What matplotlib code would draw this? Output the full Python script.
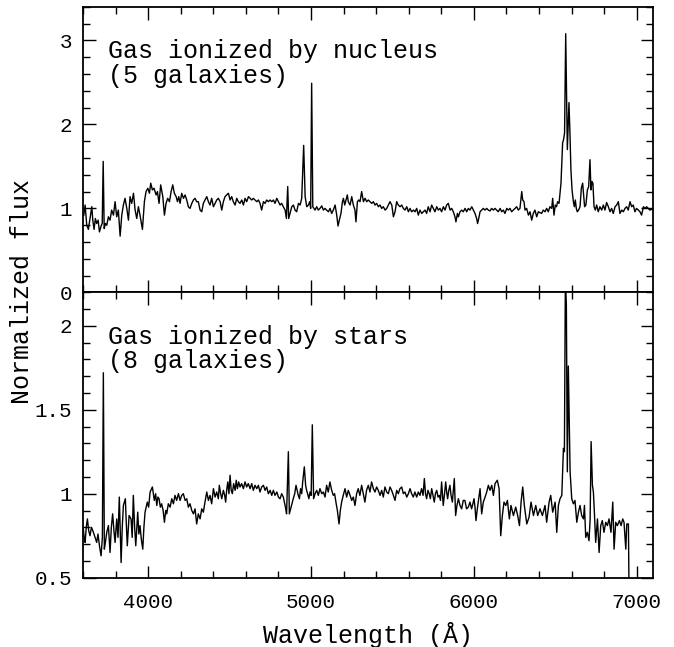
import numpy as np
import matplotlib
matplotlib.use('Agg')
import matplotlib.pyplot as plt
from matplotlib.ticker import MultipleLocator, FormatStrFormatter

plt.rcParams['font.family'] = ['Liberation Mono', 'DejaVu Sans']

# composite spectrum, nuclear-ionized sample (wavelength in A, normalized flux)
nuc_wave = [
    3605, 3613, 3623, 3633, 3643, 3654, 3660, 3668, 3676, 3684,
    3693, 3701, 3711, 3718, 3724, 3730, 3738, 3746, 3756, 3766,
    3776, 3787, 3797, 3807, 3817, 3828, 3838, 3848, 3858, 3869,
    3879, 3889, 3899, 3910, 3920, 3930, 3940, 3950, 3965, 3977,
    3987, 3998, 4008, 4016, 4026, 4036, 4049, 4057, 4067, 4077,
    4090, 4100, 4110, 4120, 4131, 4141, 4151, 4161, 4172, 4180,
    4188, 4196, 4206, 4217, 4227, 4237, 4247, 4257, 4268, 4278,
    4288, 4298,
    4308, 4319, 4329, 4339, 4349, 4360, 4370, 4380, 4390, 4401,
    4411, 4421, 4431, 4442, 4452, 4462, 4472, 4482, 4493, 4503,
    4513, 4523, 4534, 4544, 4554, 4564, 4575, 4585, 4595, 4605,
    4616, 4626, 4636, 4646, 4656, 4667, 4677, 4687, 4697, 4708,
    4718, 4728, 4738, 4749, 4759, 4769, 4779, 4790, 4800, 4810,
    4820, 4830, 4841, 4849, 4857, 4863, 4871, 4882, 4892, 4902,
    4912, 4923, 4933, 4943, 4955, 4964, 4974, 4984, 4992, 4998,
    5004, 5011,
    5025, 5035, 5045, 5055, 5066, 5076, 5086, 5096, 5107, 5117,
    5127, 5137, 5148, 5158, 5166, 5174, 5184, 5193, 5199, 5207,
    5215, 5223, 5229, 5240, 5250, 5260, 5270, 5276, 5285, 5293,
    5301, 5311, 5322, 5332, 5342, 5352, 5362, 5373, 5383, 5393,
    5403, 5414, 5424, 5434, 5444, 5455, 5465, 5475, 5485, 5496,
    5506, 5516, 5526, 5536, 5547, 5557, 5567, 5577, 5588, 5598,
    5608, 5618, 5629, 5639, 5649, 5659, 5669, 5680, 5690, 5700,
    5710, 5720, 5731, 5741, 5751, 5761, 5772, 5782, 5792, 5802,
    5813, 5823, 5833, 5843, 5854, 5864, 5874, 5884, 5890, 5899,
    5905, 5915, 5925, 5935, 5946, 5956, 5966, 5976, 5987, 5997,
    6007, 6017, 6023, 6032, 6038, 6048, 6058, 6068, 6079, 6089,
    6099, 6109, 6120, 6130, 6140, 6150, 6161, 6171, 6181, 6191,
    6202, 6212, 6222, 6232, 6242, 6253, 6263, 6273, 6283, 6294,
    6300, 6308, 6314, 6324, 6335, 6345, 6355, 6365, 6375, 6386,
    6396,
    6416, 6426, 6437, 6447, 6457, 6467, 6478, 6484, 6492, 6500,
    6508, 6514, 6523, 6529, 6535, 6541, 6545, 6551, 6557, 6564,
    6574, 6584, 6590, 6596, 6603, 6611, 6617, 6623,
    6629, 6635, 6643, 6652, 6660, 6668, 6674, 6680, 6688, 6697,
    6705, 6713, 6719, 6725, 6731, 6738, 6746, 6754, 6764, 6774,
    6785, 6795, 6805, 6815, 6826, 6836, 6846, 6856, 6867, 6877,
    6887, 6897, 6908, 6918, 6928, 6938, 6948, 6959, 6969, 6979,
    6989, 6999, 7010, 7020, 7030, 7041, 7051, 7061, 7071, 7081,
    7092, 7100,
]
nuc_flux = [
    0.92, 1.04, 0.80, 0.75, 0.88, 1.02, 0.86, 0.75, 0.88, 0.82,
    0.86, 0.72, 0.79, 0.82, 1.56, 0.76, 0.82, 0.80, 0.90, 0.86,
    0.98, 0.92, 1.08, 0.90, 0.98, 0.67, 0.92, 1.04, 1.12, 1.00,
    0.86, 1.14, 1.06, 1.18, 0.98, 0.88, 1.02, 0.92, 0.75, 1.08,
    1.20, 1.24, 1.18, 1.30, 1.22, 1.24, 1.16, 1.20, 1.06, 1.28,
    1.14, 0.92, 1.06, 1.12, 1.08, 1.20, 1.28, 1.18, 1.14, 1.08,
    1.14, 1.06, 1.18, 1.12, 1.16, 1.10, 1.02, 1.00, 1.06, 1.10,
    1.12, 1.08,
    1.08, 0.98, 0.96, 1.06, 1.10, 1.14, 1.08, 1.04, 1.12, 1.02,
    1.06, 1.10, 1.12, 1.08, 0.98, 1.08, 1.14, 1.16, 1.18, 1.10,
    1.14, 1.08, 1.04, 1.12, 1.08, 1.06, 1.10, 1.04, 1.12, 1.08,
    1.14, 1.12, 1.10, 1.12, 1.10, 1.08, 1.10, 1.06, 0.98, 1.08,
    1.06, 1.10, 1.08, 1.10, 1.08, 1.10, 1.06, 1.12, 1.08, 1.04,
    1.06, 1.02, 0.98, 0.88, 1.26, 0.88, 0.94, 1.02, 1.04, 0.98,
    0.96, 1.06, 1.04, 1.12, 1.75, 1.14, 1.02, 1.04, 1.08, 1.00,
    2.49, 1.02,
    0.98, 1.02, 0.98, 1.00, 1.03, 0.98, 1.00, 0.98, 0.96, 1.00,
    0.94, 0.98, 1.04, 0.92, 0.79, 0.86, 0.94, 1.08, 1.12, 1.04,
    1.10, 1.16, 1.08, 1.04, 1.14, 1.04, 0.98, 0.84, 1.08, 1.10,
    1.08, 1.20, 1.08, 1.12, 1.08, 1.10, 1.08, 1.06, 1.08, 1.04,
    1.06, 1.02, 1.04, 1.00, 1.02, 0.98, 1.00, 1.04, 1.08, 1.04,
    0.90, 0.96, 1.08, 1.04, 1.02, 1.04, 1.00, 0.98, 1.02, 0.96,
    1.00, 0.96, 0.98, 0.96, 1.00, 0.92, 0.98, 0.94, 0.96, 0.98,
    0.94, 1.02, 0.96, 1.04, 1.00, 0.96, 1.02, 0.98, 1.00, 0.96,
    1.02, 0.98, 1.04, 1.06, 0.98, 1.00, 0.96, 0.90, 0.84, 0.94,
    0.90, 0.96, 0.98, 0.96, 1.00, 0.96, 1.00, 0.98, 1.02, 0.98,
    0.94, 0.88, 0.82, 0.90, 0.96, 0.98, 1.00, 0.98, 1.00, 0.98,
    0.97, 1.00, 0.98, 1.00, 0.98, 0.96, 1.00, 0.96, 0.98, 0.94,
    1.00, 0.98, 1.00, 0.96, 0.98, 1.00, 1.02, 0.98, 1.00, 1.20,
    1.10, 1.08, 0.98, 1.00, 0.92, 0.96, 0.86, 0.94, 0.98, 0.90,
    0.96,
    0.94, 0.98, 0.96, 1.00, 0.96, 1.02, 1.00, 1.12, 0.92, 1.04,
    1.02, 1.08, 1.06, 1.18, 1.30, 1.58, 1.78, 1.82, 1.90, 3.08,
    1.70, 2.26, 1.90, 1.46, 1.22, 1.08, 1.02, 1.10,
    1.00, 0.96, 0.98, 1.02, 1.24, 1.30, 1.16, 1.02, 1.04, 1.22,
    1.26, 1.58, 1.22, 1.32, 1.30, 1.02, 0.98, 1.04, 0.96, 1.02,
    0.98, 1.04, 0.98, 1.07, 1.02, 0.96, 1.00, 0.94, 1.02, 1.04,
    1.08, 0.94, 0.98, 0.96, 1.00, 1.02, 0.98, 1.08, 1.02, 1.04,
    0.96, 1.00, 0.98, 0.96, 0.92, 1.02, 1.00, 1.02, 1.00, 0.98,
    0.99, 0.98,
]

# composite spectrum, star-ionized sample
sf_wave = [
    3602, 3607, 3613, 3620, 3627, 3635, 3643, 3652, 3664, 3674,
    3684, 3692, 3701, 3711, 3719, 3725, 3731, 3739, 3746, 3756,
    3766, 3774, 3782, 3790, 3797, 3807, 3815, 3823, 3834, 3841,
    3848, 3860, 3866, 3872, 3883, 3895, 3902, 3909, 3917, 3924,
    3936, 3943, 3950, 3958, 3967, 3974, 3981, 3995, 4003, 4012,
    4026, 4038, 4046, 4053, 4060, 4067, 4075, 4083, 4092,
    4100, 4108, 4114, 4124, 4135, 4145, 4155, 4165, 4175, 4186,
    4196, 4206, 4216, 4227, 4237, 4247, 4257, 4268, 4278, 4288,
    4298, 4308, 4319, 4329, 4339, 4349, 4360, 4370, 4380, 4390,
    4401, 4411, 4421, 4431, 4437, 4445, 4452, 4462, 4470, 4476,
    4482, 4489, 4496, 4503, 4510, 4517, 4525, 4534, 4541, 4548,
    4556, 4564, 4574, 4585, 4595, 4605, 4615, 4626, 4636, 4646,
    4656, 4667, 4677, 4687, 4697, 4708, 4718, 4728, 4738, 4749,
    4759, 4769, 4779, 4790, 4800, 4810, 4820, 4830, 4843,
    4850, 4861, 4867, 4875, 4883, 4891, 4900, 4908, 4915, 4922,
    4929, 4936, 4943, 4949, 4959, 4967, 4973, 4979, 4987, 4994,
    5001, 5008,
    5016, 5025, 5035, 5045, 5055, 5066, 5076, 5086, 5096, 5106,
    5116, 5127, 5137, 5145, 5153, 5162, 5172, 5180, 5188, 5198,
    5209, 5219, 5229, 5240, 5250, 5260, 5270, 5280, 5290, 5300,
    5311, 5321, 5331, 5341, 5352, 5362, 5372, 5383, 5393, 5403,
    5413, 5424, 5434, 5444, 5454, 5465, 5475, 5485, 5495, 5506,
    5516, 5526, 5536, 5546, 5557, 5567, 5577, 5588, 5598, 5608,
    5618, 5628, 5638, 5649, 5659, 5669, 5679, 5688, 5696, 5703,
    5710, 5718, 5726, 5733, 5741, 5749, 5757, 5764, 5772, 5780,
    5788, 5795, 5802, 5807, 5812, 5820, 5827, 5833, 5839, 5846,
    5853, 5860, 5868, 5874, 5880, 5884, 5888, 5896, 5905, 5915,
    5925, 5935, 5945, 5955, 5966, 5976, 5986, 5994, 6001, 6007,
    6013, 6020, 6027,
    6038, 6048, 6058, 6069, 6079, 6089, 6099, 6110, 6120, 6130,
    6144, 6155, 6165, 6175, 6185, 6196, 6206, 6218, 6228, 6243,
    6257, 6269, 6280, 6290, 6300, 6310, 6325, 6339, 6351, 6366,
    6380, 6392, 6406, 6421, 6437, 6447, 6462, 6472, 6484, 6499,
    6509, 6519, 6529, 6540, 6550, 6556, 6562, 6568, 6574, 6580,
    6591, 6601, 6611, 6621, 6632, 6642, 6652, 6662, 6673, 6679,
    6687, 6697, 6707, 6714, 6720, 6728, 6734, 6740, 6748, 6759,
    6769, 6779, 6789, 6799, 6810, 6820, 6830, 6842, 6853, 6861,
    6871, 6881, 6894, 6904, 6914, 6922, 6933, 6939, 6949, 6954,
]
sf_flux = [
    0.79, 0.74, 0.71, 0.80, 0.85, 0.78, 0.75, 0.80, 0.77, 0.74,
    0.71, 0.76, 0.69, 0.63, 0.74, 1.72, 0.67, 0.72, 0.77, 0.81,
    0.65, 0.80, 0.88, 0.78, 0.71, 0.85, 0.74, 0.98, 0.59, 0.80,
    0.93, 0.97, 0.82, 0.69, 0.87, 0.85, 0.74, 0.99, 0.80, 0.69,
    0.89, 0.76, 0.81, 0.73, 0.67, 0.80, 0.89, 0.95, 0.92, 1.01,
    1.04, 0.96, 1.00, 0.93, 0.98, 0.97, 0.92, 0.94, 0.90,
    0.83, 0.90, 0.88, 0.94, 0.92, 0.97, 0.94, 0.99, 0.96, 1.00,
    0.96, 0.99, 1.00, 0.96, 0.97, 0.92, 0.94, 0.90, 0.88, 0.91,
    0.82, 0.88, 0.85, 0.91, 0.89, 0.95, 1.01, 0.96, 0.99, 0.94,
    1.03, 0.98, 1.01, 0.97, 1.05, 1.00, 0.97, 1.02, 0.99, 0.95,
    1.02, 1.07, 1.00, 1.11, 1.02, 1.00, 1.06, 1.02, 1.08, 1.03,
    1.07, 1.04, 1.06, 1.03, 1.07, 1.04, 1.06, 1.03, 1.06, 1.02,
    1.05, 1.03, 1.05, 1.01, 1.04, 1.05, 1.02, 1.04, 1.00, 1.02,
    0.99, 1.02, 0.99, 1.01, 0.98, 0.97, 1.00, 0.98, 0.92,
    0.88, 1.25, 0.88, 0.91, 0.94, 0.97, 1.00, 1.05, 1.02, 0.99,
    0.97, 1.03, 1.00, 1.07, 1.16, 1.05, 1.02, 1.00, 0.97, 1.01,
    0.99, 1.41,
    0.97, 1.00, 1.02, 0.99, 1.03, 1.00, 1.01, 0.98, 1.05, 1.01,
    1.07, 1.02, 0.99, 1.00, 0.95, 0.90, 0.82, 0.90, 0.95, 0.99,
    1.03, 0.98, 1.02, 0.99, 0.96, 0.98, 0.93, 1.00, 1.03, 0.99,
    1.05, 1.00, 0.95, 1.02, 1.05, 1.01, 1.07, 1.03, 1.01, 1.04,
    1.02, 0.99, 1.02, 0.98, 1.04, 1.01, 1.00, 1.04, 1.02, 0.99,
    0.96, 1.02, 1.00, 1.03, 1.04, 1.00, 1.01, 0.98, 1.00, 1.03,
    1.00, 0.98, 1.01, 0.98, 1.01, 0.99, 1.03, 0.99, 1.09, 1.00,
    0.97, 1.02, 1.00, 0.97, 1.03, 0.99, 0.95, 1.00, 1.02, 0.98,
    0.99, 0.96, 1.07, 1.00, 0.93, 1.00, 1.07, 1.01, 0.97, 1.02,
    1.05, 0.99, 0.95, 1.02, 1.09, 0.98, 0.87, 0.93, 0.97, 0.93,
    0.91, 0.96, 0.96, 0.91, 0.92, 0.95, 0.91, 0.94, 0.97, 0.92,
    0.84, 0.90, 0.95,
    1.03, 0.88, 0.95, 0.98, 1.01, 1.05, 1.02, 1.05, 0.99, 1.06,
    1.08, 1.03, 0.75, 0.87, 0.95, 0.93, 0.96, 0.85, 0.93, 0.87,
    0.92, 0.87, 0.81, 0.95, 1.04, 0.93, 0.82, 0.86, 0.95, 0.87,
    0.93, 0.87, 0.91, 0.87, 0.93, 0.83, 0.95, 0.99, 0.89, 0.95,
    0.77, 0.93, 0.97, 0.99, 1.27, 1.25, 2.30, 2.12, 1.13, 1.76,
    1.13, 0.97, 0.94, 0.96, 0.83, 0.89, 0.93, 0.87, 0.85, 0.93,
    0.74, 0.77, 0.72, 0.85, 1.31, 1.05, 1.01, 0.89, 0.71, 0.85,
    0.65, 0.81, 0.84, 0.77, 0.83, 0.81, 0.85, 0.77, 0.95, 0.67,
    0.83, 0.81, 0.84, 0.81, 0.85, 0.83, 0.67, 0.82, 0.82, 0.30,
]
assert len(nuc_wave) == len(nuc_flux) and len(sf_wave) == len(sf_flux)

panels = [
    ('Gas ionized by nucleus', '(5 galaxies)', nuc_wave, nuc_flux,
     (0, 3.4), 1, 0.2),
    ('Gas ionized by stars', '(8 galaxies)', sf_wave, sf_flux,
     (0.5, 2.2), 0.5, 0.1),
]

fig = plt.figure(figsize=(6.74, 6.47), dpi=100)
left, width, height = 83/674, 570/674, 285.6/647
bottoms = [1 - 292.4/647, 1 - 577.7/647]

for i, (line1, line2, wave, flux, ylim, major, minor) in enumerate(panels):
    ax = fig.add_axes([left, bottoms[i], width, height])
    ax.plot(wave, flux, color='black', lw=1.0)
    ax.set_xlim(3600, 7100)
    ax.set_ylim(*ylim)
    ax.xaxis.set_major_locator(MultipleLocator(1000))
    ax.xaxis.set_minor_locator(MultipleLocator(200))
    ax.yaxis.set_major_locator(MultipleLocator(major))
    ax.yaxis.set_minor_locator(MultipleLocator(minor))
    ax.yaxis.set_major_formatter(FormatStrFormatter('%g'))
    ax.tick_params(which='both', direction='in', top=True, right=True,
                   labelsize=15, width=1.0)
    ax.tick_params(axis='y', pad=8)
    ax.tick_params(axis='x', pad=11)
    ax.tick_params(which='major', length=9)
    ax.tick_params(which='minor', length=4.8)
    for s in ax.spines.values():
        s.set_linewidth(1.3)
    if i == 0:
        ax.tick_params(labelbottom=False)
    ax.text(0.044, 0.82, line1, transform=ax.transAxes, fontsize=18,
            va='baseline')
    ax.text(0.044, 0.733, line2, transform=ax.transAxes, fontsize=18,
            va='baseline')

fig.text(22/674, 1 - 292/647, 'Normalized flux', rotation=90,
         ha='center', va='center', fontsize=18)
fig.text(368/674, 1 - 643/647, 'Wavelength (Å)', ha='center',
         va='baseline', fontsize=18)

fig.savefig('out.png', dpi=100)
